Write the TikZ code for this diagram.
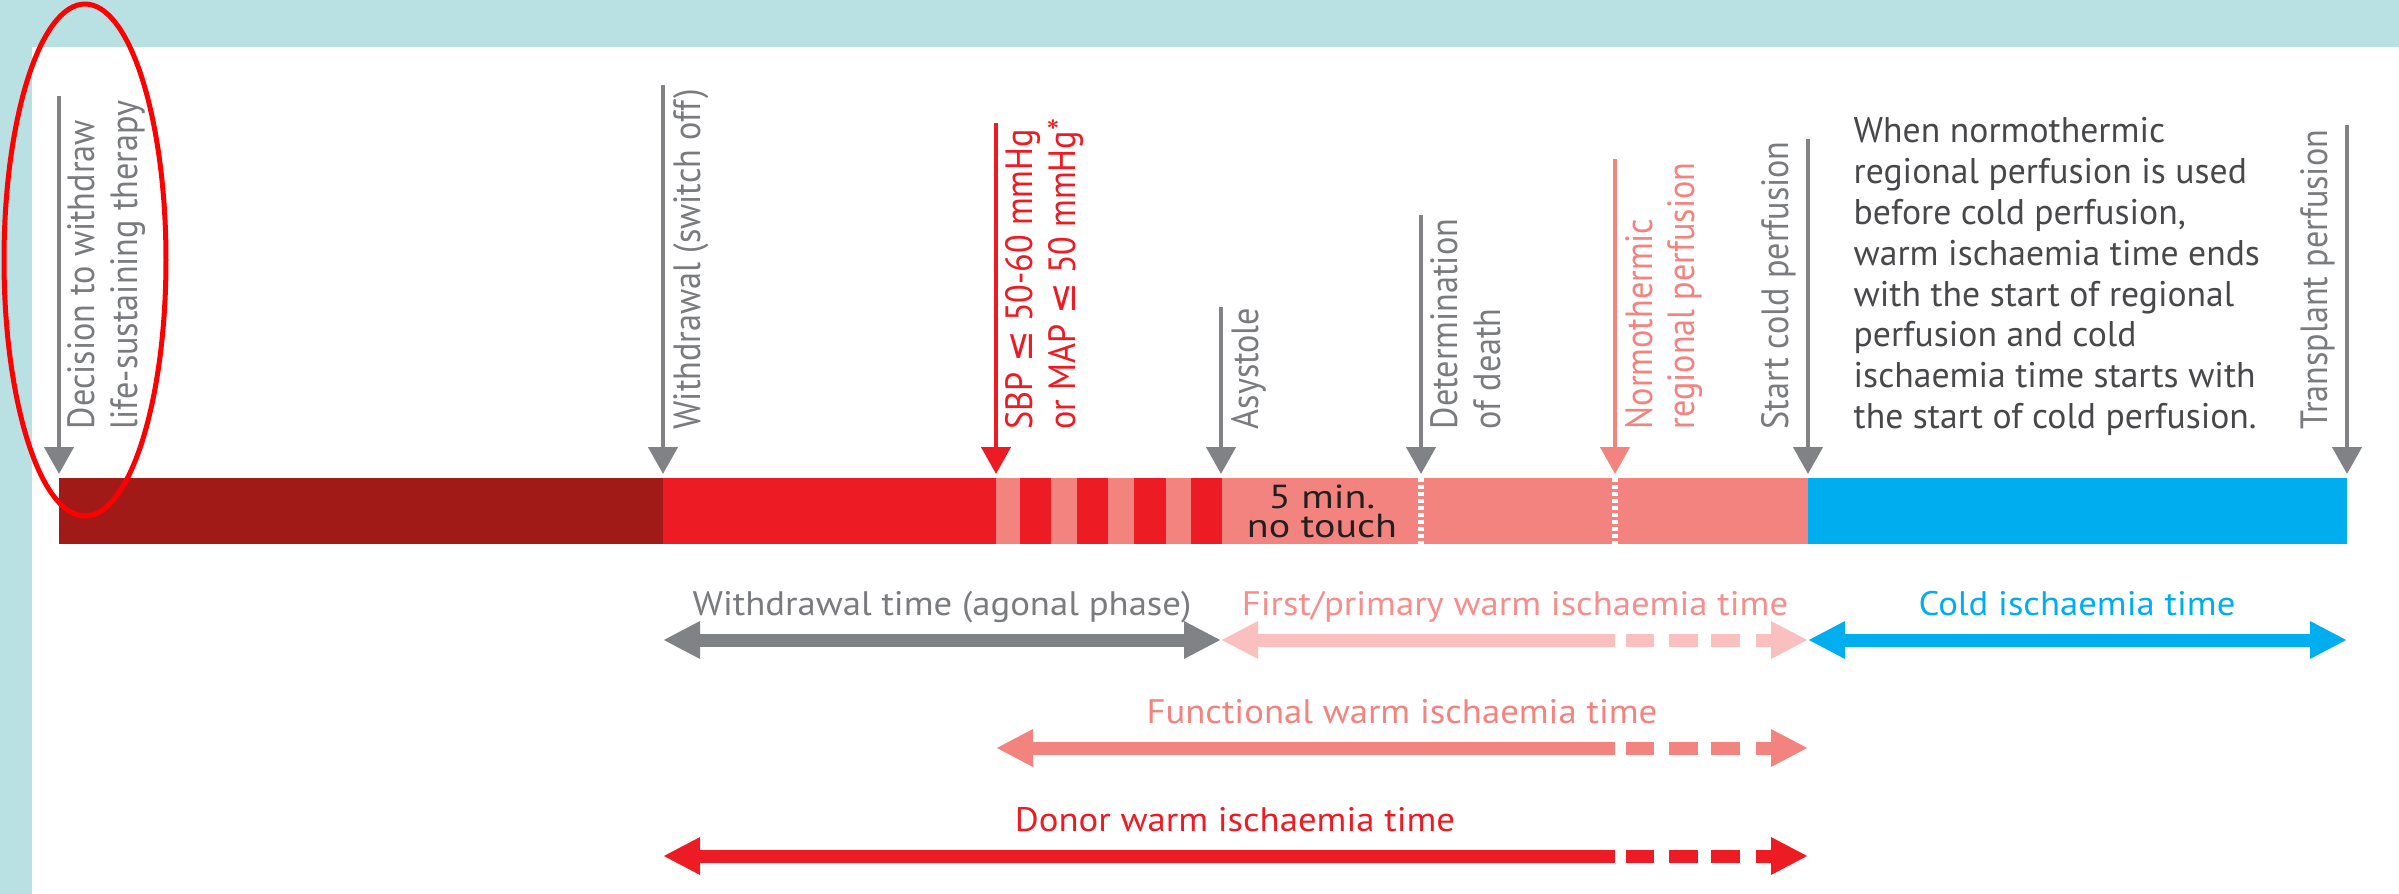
\documentclass[tikz,border=0pt]{standalone}
\usepackage{fontspec}
\setmainfont{PT Sans}
\newfontfamily\wideFont[FakeStretch=1.08]{PT Sans}
\newfontfamily\barFont[FakeStretch=1.2]{PT Sans}
\newfontfamily\tallFont[FakeStretch=0.9]{PT Sans}
\newfontfamily\symfont{DejaVu Sans}
\usetikzlibrary{arrows.meta}
\definecolor{bgTeal}{HTML}{B9E0E2}
\definecolor{cDark}{HTML}{A21A17}
\definecolor{cRed}{HTML}{ED1C24}
\definecolor{cSalmon}{HTML}{F3837F}
\definecolor{cPink}{HTML}{F9C0BF}
\definecolor{cPinkText}{HTML}{F58E8C}
\definecolor{cBlue}{HTML}{00AEEF}
\definecolor{cGray}{HTML}{808285}
\definecolor{cGrayText}{HTML}{7A7B7E}
\definecolor{cNote}{HTML}{48474A}
\definecolor{cBlack}{HTML}{231F20}
\tikzset{
  vArrow/.style={line width=1.35pt, -{Triangle[length=8.1pt,width=8.7pt]}},
  dblArrow/.style={line width=3.9pt, {Triangle[length=11.1pt,width=10.5pt]}-{Triangle[length=11.1pt,width=10.5pt]}},
  leftHead/.style={line width=3.9pt, {Triangle[length=11.1pt,width=10.5pt]}-},
  dashTail/.style={line width=3.9pt, -{Triangle[length=11.1pt,width=10.5pt]}, dash pattern=on 0pt off 3.3pt on 8.4pt off 4.5pt on 8.7pt off 3.9pt on 8.7pt off 4.8pt on 40pt},
  vlabel/.style={rotate=90, anchor=base west, inner sep=0pt, font=\tallFont\fontsize{11.4pt}{13pt}\selectfont},
  tlabel/.style={anchor=base, inner sep=0pt, font=\wideFont\fontsize{10.2pt}{12pt}\selectfont},
  noteline/.style={anchor=base west, inner sep=0pt, font=\fontsize{10.7pt}{12.5pt}\selectfont, text=cNote},
  barlabel/.style={anchor=base, inner sep=0pt, font=\barFont\fontsize{10pt}{11pt}\selectfont, text=cBlack},
  dotline/.style={white, line width=1.8pt, dash pattern=on 1.2pt off 0.9pt},
}
\begin{document}
\begin{tikzpicture}[x=0.3pt,y=-0.3pt]
\path[use as bounding box] (0,0) rectangle (2399,894);
\fill[white] (0,0) rectangle (2399,894);
\fill[bgTeal] (0,0) rectangle (2399,47);
\fill[bgTeal] (0,0) rectangle (32,894);

% events (arrow tips, just above the bar)
\coordinate (eDec) at (59,474);
\coordinate (eWd) at (663,474);
\coordinate (eSbp) at (996,474);
\coordinate (eAsy) at (1221,474);
\coordinate (eDet) at (1421,474);
\coordinate (eNrp) at (1615,474);
\coordinate (eScp) at (1808,474);
\coordinate (eTp) at (2347,474);
% arrow tails
\coordinate (tDec) at (59,96);
\coordinate (tWd) at (663,85);
\coordinate (tSbp) at (996,123);
\coordinate (tAsy) at (1221,307);
\coordinate (tDet) at (1421,215);
\coordinate (tNrp) at (1615,159);
\coordinate (tScp) at (1808,139);
\coordinate (tTp) at (2347,125);
% rows of the interval arrows
\coordinate (r1) at (0,640);
\coordinate (r2) at (0,748);
\coordinate (r3) at (0,856);

% timeline bar
\fill[cDark] (59,478) rectangle (663,544);
\fill[cRed] (663,478) rectangle (996,544);
\fill[cSalmon] (996,478) rectangle (1808,544);
\foreach \a/\b in {1020/1051,1077/1108,1134/1166,1191/1222}
  \fill[cRed] (\a,478) rectangle (\b,544);
\fill[cBlue] (1808,478) rectangle (2347,544);
\draw[dotline] (1421,478) -- (1421,544);
\draw[dotline] (1615,478) -- (1615,544);
\node[barlabel] (nt1) at (1322,508) {5 min.};
\node[barlabel] (nt2) at (1322,537) {no touch};

% vertical event arrows
\draw[vArrow, cGray] (tDec) -- (eDec);
\draw[vArrow, cGray] (tWd) -- (eWd);
\draw[vArrow, cRed] (tSbp) -- (eSbp);
\draw[vArrow, cGray] (tAsy) -- (eAsy);
\draw[vArrow, cGray] (tDet) -- (eDet);
\draw[vArrow, cSalmon] (tNrp) -- (eNrp);
\draw[vArrow, cGray] (tScp) -- (eScp);
\draw[vArrow, cGray] (tTp) -- (eTp);

% event labels
\node[vlabel, text=cGrayText] (lDec1) at (94,430) {Decision to withdraw};
\node[vlabel, text=cGrayText] (lDec2) at (137,430) {life-sustaining therapy};
\node[vlabel, text=cGrayText] (lWd) at (700,430) {Withdrawal (switch off)};
\node[vlabel, text=cRed] (lSbp1) at (1032,430) {SBP {\symfont ≤} 50-60 mmHg};
\node[vlabel, text=cRed] (lSbp2) at (1075,430) {or MAP {\symfont ≤} 50 mmHg*};
\node[vlabel, text=cGrayText] (lAsy) at (1258,430) {Asystole};
\node[vlabel, text=cGrayText] (lDet1) at (1457,430) {Determination};
\node[vlabel, text=cGrayText] (lDet2) at (1500,430) {of death};
\node[vlabel, text=cSalmon] (lNrp1) at (1652,430) {Normothermic};
\node[vlabel, text=cSalmon] (lNrp2) at (1694,430) {regional perfusion};
\node[vlabel, text=cGrayText] (lScp) at (1788,430) {Start cold perfusion};
\node[vlabel, text=cGrayText] (lTp) at (2327,430) {Transplant perfusion};

% note
\node[noteline] (n1) at (1853,143.0) {When normothermic};
\node[noteline] (n2) at (1853,183.8) {regional perfusion is used};
\node[noteline] (n3) at (1853,224.6) {before cold perfusion,};
\node[noteline] (n4) at (1853,265.4) {warm ischaemia time ends};
\node[noteline] (n5) at (1853,306.2) {with the start of regional};
\node[noteline] (n6) at (1853,347.0) {perfusion and cold};
\node[noteline] (n7) at (1853,387.8) {ischaemia time starts with};
\node[noteline] (n8) at (1853,428.6) {the start of cold perfusion.};

% interval arrows
\draw[dblArrow, cGray] (eWd |- r1) -- (eAsy |- r1);
\draw[leftHead, cPink] (eAsy |- r1) -- (eNrp |- r1);
\draw[dashTail, cPink] (eNrp |- r1) -- (eScp |- r1);
\draw[dblArrow, cBlue] (eScp |- r1) -- (eTp |- r1);
\draw[leftHead, cSalmon] (eSbp |- r2) -- (eNrp |- r2);
\draw[dashTail, cSalmon] (eNrp |- r2) -- (eScp |- r2);
\draw[leftHead, cRed] (eWd |- r3) -- (eNrp |- r3);
\draw[dashTail, cRed] (eNrp |- r3) -- (eScp |- r3);

% interval labels
\node[tlabel, text=cGrayText] (lWt) at (942,615) {Withdrawal time (agonal phase)};
\node[tlabel, text=cPinkText] (lFp) at (1515,615) {First/primary warm ischaemia time};
\node[tlabel, text=cBlue] (lCold) at (2077,615) {Cold ischaemia time};
\node[tlabel, text=cSalmon] (lFunc) at (1402,723) {Functional warm ischaemia time};
\node[tlabel, text=cRed] (lDonor) at (1235,831) {Donor warm ischaemia time};

% highlight ellipse
\draw[red, line width=1.5pt] (85,260) ellipse [x radius=24.3pt, y radius=76.8pt];
\end{tikzpicture}
\end{document}
